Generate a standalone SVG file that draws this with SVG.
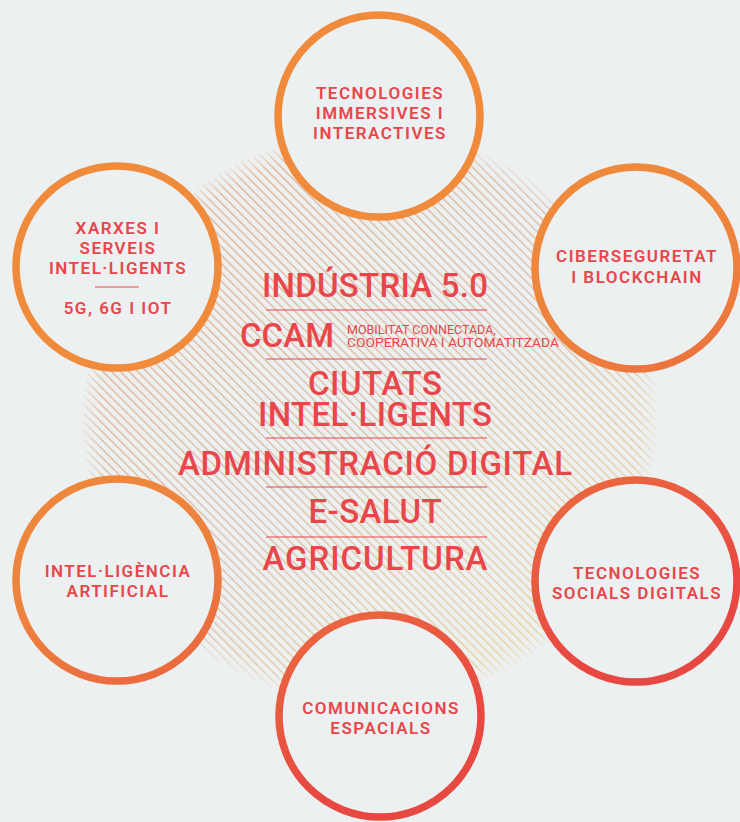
<svg xmlns="http://www.w3.org/2000/svg" width="740" height="822" viewBox="0 0 740 822">
  <defs>
    <style>
      .ring { fill: #edf0f1; stroke: url(#ringGrad); stroke-width: 7.5; }
      .lbl { font-family: Roboto, "Liberation Sans", sans-serif; font-weight: 600; font-size: 17px; letter-spacing: 1.5px; fill: #e8464a; text-anchor: middle; }
      .big { font-family: Roboto, "Liberation Sans", sans-serif; font-weight: 500; font-size: 33px; fill: #e8464a; text-anchor: middle; }
      .small { font-family: Roboto, "Liberation Sans", sans-serif; font-weight: 400; font-size: 12.5px; fill: #e8464a; }
      .sep { stroke: #e8464a; stroke-width: 1.1; }
    </style>
    <linearGradient id="ringGrad" gradientUnits="userSpaceOnUse" x1="100" y1="400" x2="300" y2="800">
      <stop offset="0" stop-color="#ef8b3b"/>
      <stop offset="0.35" stop-color="#ed823d"/>
      <stop offset="1" stop-color="#e84842"/>
    </linearGradient>
    <linearGradient id="hatchGrad" gradientUnits="userSpaceOnUse" x1="150" y1="180" x2="560" y2="660">
      <stop offset="0" stop-color="#e2a274"/>
      <stop offset="0.5" stop-color="#d8b298"/>
      <stop offset="1" stop-color="#ebd088"/>
    </linearGradient>
    <radialGradient id="fade" gradientUnits="userSpaceOnUse" cx="370" cy="418" r="287">
      <stop offset="0.94" stop-color="#fff"/>
      <stop offset="1" stop-color="#fff" stop-opacity="0.2"/>
    </radialGradient>
    <pattern id="hatch" patternUnits="userSpaceOnUse" width="6.15" height="6.15" patternTransform="rotate(-45)">
      <rect x="0" y="0" width="1.3" height="6.15" fill="#fff"/>
    </pattern>
    <mask id="hatchMask" maskUnits="userSpaceOnUse" x="0" y="0" width="740" height="822">
      <rect x="0" y="0" width="740" height="822" fill="url(#hatch)"/>
    </mask>
    <mask id="fadeMask" maskUnits="userSpaceOnUse" x="0" y="0" width="740" height="822">
      <circle cx="370" cy="418" r="287" fill="url(#fade)"/>
    </mask>
  </defs>

  <rect x="0" y="0" width="740" height="822" fill="#edf0f1"/>

  <g id="hatch-area" mask="url(#fadeMask)">
    <circle cx="370" cy="418" r="287" fill="url(#hatchGrad)" mask="url(#hatchMask)" opacity="0.85"/>
  </g>

  <g id="center">
    <text class="big" x="375" y="297" textLength="226" lengthAdjust="spacing">INDÚSTRIA 5.0</text>
    <line class="sep" x1="266" y1="310" x2="487" y2="310"/>
    <text class="big" x="287" y="347" textLength="94" lengthAdjust="spacing">CCAM</text>
    <text class="small" x="347" y="334">MOBILITAT CONNECTADA,</text>
    <text class="small" x="347" y="347" textLength="212" lengthAdjust="spacingAndGlyphs">COOPERATIVA I AUTOMATITZADA</text>
    <line class="sep" x1="266" y1="359" x2="487" y2="359"/>
    <text class="big" x="375" y="395" textLength="134" lengthAdjust="spacing">CIUTATS</text>
    <text class="big" x="375" y="426" textLength="234" lengthAdjust="spacing">INTEL·LIGENTS</text>
    <line class="sep" x1="266" y1="438" x2="487" y2="438"/>
    <text class="big" x="375" y="475" textLength="394" lengthAdjust="spacing">ADMINISTRACIÓ DIGITAL</text>
    <line class="sep" x1="266" y1="487" x2="487" y2="487"/>
    <text class="big" x="375" y="523" textLength="133" lengthAdjust="spacing">E-SALUT</text>
    <line class="sep" x1="266" y1="537" x2="487" y2="537"/>
    <text class="big" x="375" y="570" textLength="225" lengthAdjust="spacing">AGRICULTURA</text>
  </g>

  <g id="tecnologies-immersives">
    <circle class="ring" cx="379" cy="116" r="101"/>
    <text class="lbl" x="380" y="99">TECNOLOGIES</text>
    <text class="lbl" x="380" y="119">IMMERSIVES I</text>
    <text class="lbl" x="380" y="139">INTERACTIVES</text>
  </g>

  <g id="xarxes">
    <circle class="ring" cx="117" cy="267" r="101"/>
    <text class="lbl" x="118" y="234">XARXES I</text>
    <text class="lbl" x="118" y="254">SERVEIS</text>
    <text class="lbl" x="118" y="274">INTEL·LIGENTS</text>
    <line class="sep" x1="95" y1="287" x2="139" y2="287"/>
    <text class="lbl" x="118" y="314">5G, 6G I IOT</text>
  </g>

  <g id="ciberseguretat">
    <circle class="ring" cx="636" cy="268" r="101"/>
    <text class="lbl" x="637" y="262">CIBERSEGURETAT</text>
    <text class="lbl" x="637" y="283">I BLOCKCHAIN</text>
  </g>

  <g id="intelligencia-artificial">
    <circle class="ring" cx="117" cy="580" r="101"/>
    <text class="lbl" x="118" y="577">INTEL·LIGÈNCIA</text>
    <text class="lbl" x="118" y="597">ARTIFICIAL</text>
  </g>

  <g id="tecnologies-socials">
    <circle class="ring" cx="636" cy="581" r="101"/>
    <text class="lbl" x="637" y="579">TECNOLOGIES</text>
    <text class="lbl" x="637" y="599">SOCIALS DIGITALS</text>
  </g>

  <g id="comunicacions-espacials">
    <circle class="ring" cx="380" cy="716" r="101"/>
    <text class="lbl" x="381" y="714">COMUNICACIONS</text>
    <text class="lbl" x="381" y="734">ESPACIALS</text>
  </g>

  <g id="connectors"></g>
</svg>
